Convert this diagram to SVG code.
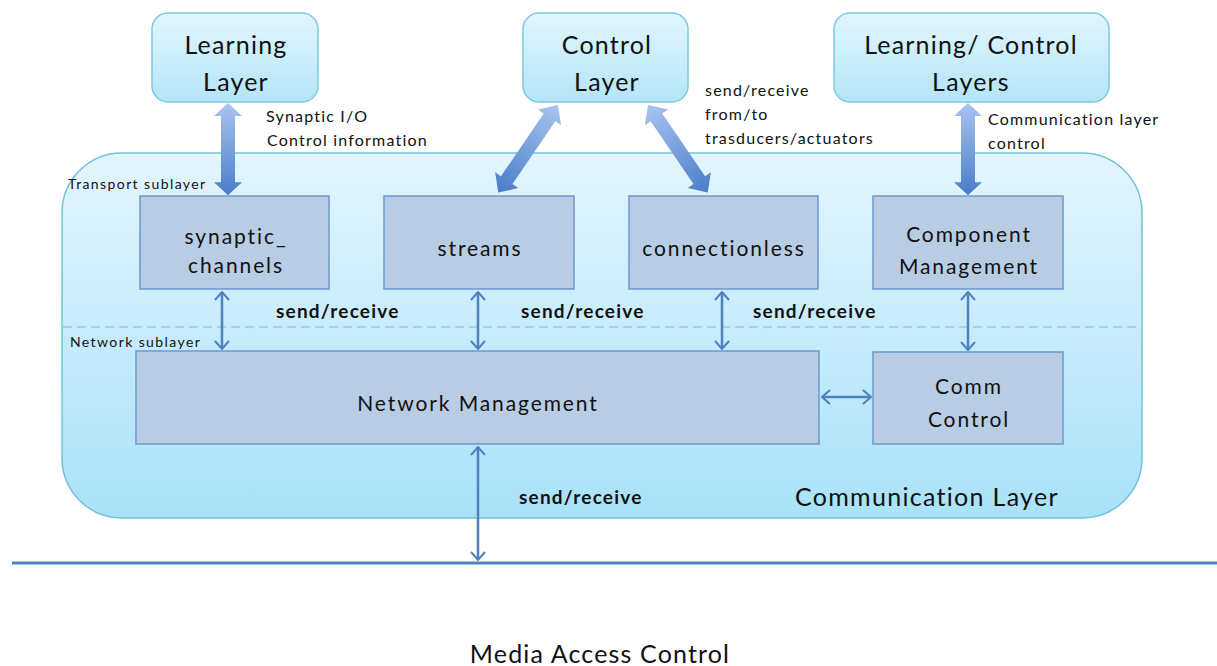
<svg xmlns="http://www.w3.org/2000/svg" width="1217" height="666" viewBox="0 0 1217 666">
<defs>
<linearGradient id="gTop" x1="0" y1="0" x2="0" y2="1">
<stop offset="0" stop-color="#e2f6fd"/><stop offset="1" stop-color="#b3e5f8"/>
</linearGradient>
<linearGradient id="gComm" x1="0" y1="0" x2="0" y2="1">
<stop offset="0" stop-color="#e3f5fd"/><stop offset="1" stop-color="#a9e2f9"/>
</linearGradient>
<linearGradient id="gArrH" x1="0" y1="0" x2="1" y2="0">
<stop offset="0" stop-color="#a9c4ef"/><stop offset="1" stop-color="#4a7dc9"/>
</linearGradient>
<marker id="chev" viewBox="0 0 10 16" refX="9" refY="8" markerWidth="10" markerHeight="16" markerUnits="userSpaceOnUse" orient="auto-start-reverse">
<path d="M1,1 L9,8 L1,15" fill="none" stroke="#4f81bd" stroke-width="2"/>
</marker>
<path id="bigArr" d="M0,0 L15,-14 L15,-7 L91,-7 L91,-14 L106,0 L91,14 L91,7 L15,7 L15,14 Z"/>
</defs>
<style>
.top{fill:url(#gTop);stroke:#7ccadf;stroke-width:1.5}
.inner{fill:#b8cce4;stroke:#6d96cf;stroke-width:1.5}
.t{font-family:Lato,"Open Sans","Liberation Sans",sans-serif;fill:#111111}
.big{font-size:25px;text-anchor:middle;letter-spacing:1.2px}
.mid{font-size:21px;text-anchor:middle;letter-spacing:1.9px}
.lbl{font-size:16px;letter-spacing:1.2px}
.sr{font-size:19px;font-weight:bold;letter-spacing:1.2px}
.sub{font-size:14px;letter-spacing:1.4px}
.thin{stroke:#4f81bd;stroke-width:2.5;fill:none;marker-start:url(#chev);marker-end:url(#chev)}
</style>
<rect width="1217" height="666" fill="#ffffff"/>

<g id="communication-layer">
<rect x="62" y="153" width="1080" height="365" rx="60" ry="60" fill="url(#gComm)" stroke="#72c2d9" stroke-width="1.5"/>
<line x1="63" y1="327" x2="1141" y2="327" stroke="#8dd0e2" stroke-width="1.5" stroke-dasharray="9,5"/>
<text class="t sub" x="68" y="189">Transport sublayer</text>
<text class="t sub" x="70" y="347">Network sublayer</text>
<text class="t" x="795" y="506" font-size="25" letter-spacing="1.3">Communication Layer</text>
</g>

<g id="learning-layer">
<rect class="top" x="152" y="13" width="166" height="89" rx="16"/>
<text class="t big" x="236" y="54">Learning</text>
<text class="t big" x="236" y="91">Layer</text>
</g>
<g id="control-layer">
<rect class="top" x="523" y="13" width="165" height="89" rx="16"/>
<text class="t big" x="607" y="54">Control</text>
<text class="t big" x="607" y="91">Layer</text>
</g>
<g id="learning-control-layers">
<rect class="top" x="834" y="13" width="275" height="89" rx="16"/>
<text class="t big" x="971" y="54">Learning/ Control</text>
<text class="t big" x="971" y="91">Layers</text>
</g>

<g id="synaptic-channels">
<rect class="inner" x="140" y="196" width="189" height="93"/>
<text class="t mid" x="236" y="244">synaptic_</text>
<text class="t mid" x="236" y="273">channels</text>
</g>
<g id="streams">
<rect class="inner" x="384" y="196" width="190" height="93"/>
<text class="t mid" x="480" y="256">streams</text>
</g>
<g id="connectionless">
<rect class="inner" x="629" y="196" width="189" height="93"/>
<text class="t mid" x="724" y="256">connectionless</text>
</g>
<g id="component-management">
<rect class="inner" x="873" y="196" width="190" height="93"/>
<text class="t mid" x="969" y="242">Component</text>
<text class="t mid" x="969" y="274">Management</text>
</g>
<g id="network-management">
<rect class="inner" x="136" y="351" width="683" height="93"/>
<text class="t mid" x="478" y="411">Network Management</text>
</g>
<g id="comm-control">
<rect class="inner" x="873" y="352" width="190" height="92"/>
<text class="t mid" x="969" y="394">Comm</text>
<text class="t mid" x="969" y="427">Control</text>
</g>

<g id="media-access-control">
<line x1="12" y1="563" x2="1217" y2="563" stroke="#4f81bd" stroke-width="3"/>
<text class="t" x="600" y="663" font-size="25" text-anchor="middle" letter-spacing="1.15">Media Access Control</text>
</g>

<g id="connectors">
<use href="#bigArr" fill="url(#gArrH)" transform="translate(228,103) rotate(90) scale(0.87,1)"/>
<use href="#bigArr" fill="url(#gArrH)" transform="translate(968,103) rotate(90) scale(0.87,1)"/>
<use href="#bigArr" fill="url(#gArrH)" transform="translate(558,105) rotate(124.3)"/>
<use href="#bigArr" fill="url(#gArrH)" transform="translate(648,105) rotate(55.7)"/>
<line class="thin" x1="222" y1="292" x2="222" y2="349"/>
<line class="thin" x1="478" y1="292" x2="478" y2="349"/>
<line class="thin" x1="722" y1="292" x2="722" y2="349"/>
<line class="thin" x1="968" y1="292" x2="968" y2="350"/>
<line class="thin" x1="822" y1="397" x2="871" y2="397"/>
<line class="thin" x1="478" y1="447" x2="478" y2="560"/>
<text class="t lbl" x="266" y="122">Synaptic I/O</text>
<text class="t lbl" x="267" y="146">Control information</text>
<text class="t lbl" x="705" y="96">send/receive</text>
<text class="t lbl" x="705" y="120">from/to</text>
<text class="t lbl" x="705" y="144">trasducers/actuators</text>
<text class="t lbl" x="988" y="125">Communication layer</text>
<text class="t lbl" x="988" y="149">control</text>
<text class="t sr" x="276" y="318">send/receive</text>
<text class="t sr" x="521" y="318">send/receive</text>
<text class="t sr" x="753" y="318">send/receive</text>
<text class="t sr" x="519" y="504">send/receive</text>
</g>
</svg>
